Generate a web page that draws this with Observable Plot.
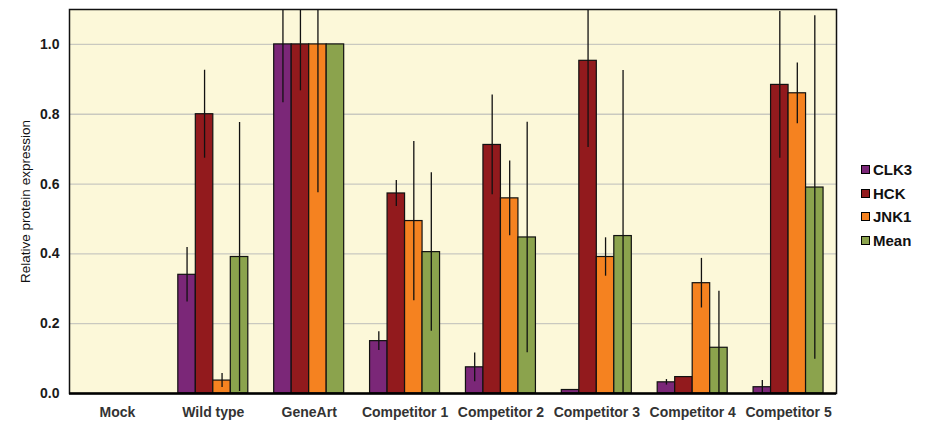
<!DOCTYPE html>
<html>
<head>
<meta charset="utf-8">
<script src="https://cdn.jsdelivr.net/npm/d3@7"></script>
<script src="https://cdn.jsdelivr.net/npm/@observablehq/plot@0.6"></script>
<style>
  html, body { margin: 0; padding: 0; background: #fff; }
  #wrap { position: relative; width: 930px; height: 423px; font-family: "Liberation Sans", Arial, sans-serif; }
  #legend { position: absolute; left: 861px; top: 158px; }
  .item { display: flex; align-items: center; height: 23.5px; font-weight: bold; font-size: 15px; color: #111; }
  .sw { width: 7px; height: 7px; border: 1.2px solid #000; margin-right: 3px; }
</style>
</head>
<body>
<div id="wrap"><div id="legend"></div></div>
<script>
const groups = ["Mock", "Wild type", "GeneArt", "Competitor 1", "Competitor 2", "Competitor 3", "Competitor 4", "Competitor 5"];
const series = ["CLK3", "HCK", "JNK1", "Mean"];
const colors = ["#7B2778", "#921A1D", "#F58220", "#8BA34D"];
const clk3    = [null, 0.340, 1.0, 0.150, 0.075, 0.010, 0.032, 0.018];
const clk3Err = [null, 0.078, 0.167, 0.027, 0.041, 0, 0.008, 0.019];
const hck     = [null, 0.800, 1.0, 0.573, 0.712, 0.953, 0.047, 0.884];
const hckErr  = [null, 0.126, 0.133, 0.037, 0.143, 0.248, 0, 0.210];
const jnk1    = [null, 0.037, 1.0, 0.494, 0.559, 0.391, 0.316, 0.860];
const jnk1Err = [null, 0.020, 0.425, 0.228, 0.107, 0.055, 0.071, 0.087];
const mean    = [null, 0.391, 1.0, 0.405, 0.447, 0.451, 0.131, 0.590];
const meanErr = [null, 0.385, 0, 0.227, 0.330, 0.474, 0.162, 0.492];
const yTicks = [0, 0.2, 0.4, 0.6, 0.8, 1.0];

const values = [clk3, hck, jnk1, mean];
const errs = [clk3Err, hckErr, jnk1Err, meanErr];
const groupWidth = 0.73;
const barW = groupWidth / series.length;
const rows = [];
groups.forEach((g, gi) => {
  series.forEach((s, si) => {
    const v = values[si][gi];
    if (v == null) return;
    const x1 = gi - groupWidth / 2 + si * barW;
    rows.push({group: g, series: s, gi, si, value: v, err: errs[si][gi], x1, x2: x1 + barW, xc: x1 + barW / 2});
  });
});

const font = '"Liberation Sans", Arial, sans-serif';
const chart = Plot.plot({
  width: 930,
  height: 423,
  marginLeft: 69,
  marginRight: 94,
  marginTop: 9,
  marginBottom: 30,
  style: {fontFamily: font, background: "transparent", overflow: "visible"},
  x: {domain: [-0.5, groups.length - 0.5]},
  y: {domain: [0, 1.1], clamp: true},
  color: {domain: series, range: colors},
  marks: [
    Plot.frame({fill: "#FCF8D9"}),
    Plot.ruleY(yTicks.slice(1), {stroke: "#c9c9c0", strokeWidth: 1.3}),
    Plot.rect(rows, {x1: "x1", x2: "x2", y1: 0, y2: "value", fill: "series", stroke: "#111", strokeWidth: 1.2}),
    Plot.ruleX(rows.filter(d => d.err > 0), {x: "xc", y1: d => d.value - d.err, y2: d => d.value + d.err, stroke: "#111", strokeWidth: 1.3}),
    Plot.frame({stroke: "#111", strokeWidth: 1.5}),
    Plot.ruleY([0], {stroke: "#000", strokeWidth: 2.5}),
    Plot.axisY({ticks: yTicks, tickFormat: d3.format(".1f"), tickSize: 0, tickPadding: 10, label: null, fontSize: 14, fontWeight: "bold", fill: "#1a1a1a"}),
    Plot.axisX({ticks: d3.range(groups.length), tickFormat: i => groups[i], tickSize: 0, tickPadding: 14, label: null, fontSize: 14, fontWeight: "bold", fill: "#333"}),
    Plot.text(["Relative protein expression"], {frameAnchor: "left", rotate: -90, dx: -44, fontSize: 13.5, fill: "#111", textAnchor: "middle"})
  ]
});
document.getElementById("wrap").prepend(chart);

const legend = document.getElementById("legend");
series.forEach((s, i) => {
  const item = document.createElement("div");
  item.className = "item";
  const sw = document.createElement("span");
  sw.className = "sw";
  sw.style.background = colors[i];
  const t = document.createElement("span");
  t.textContent = s;
  item.append(sw, t);
  legend.append(item);
});
</script>
</body>
</html>
